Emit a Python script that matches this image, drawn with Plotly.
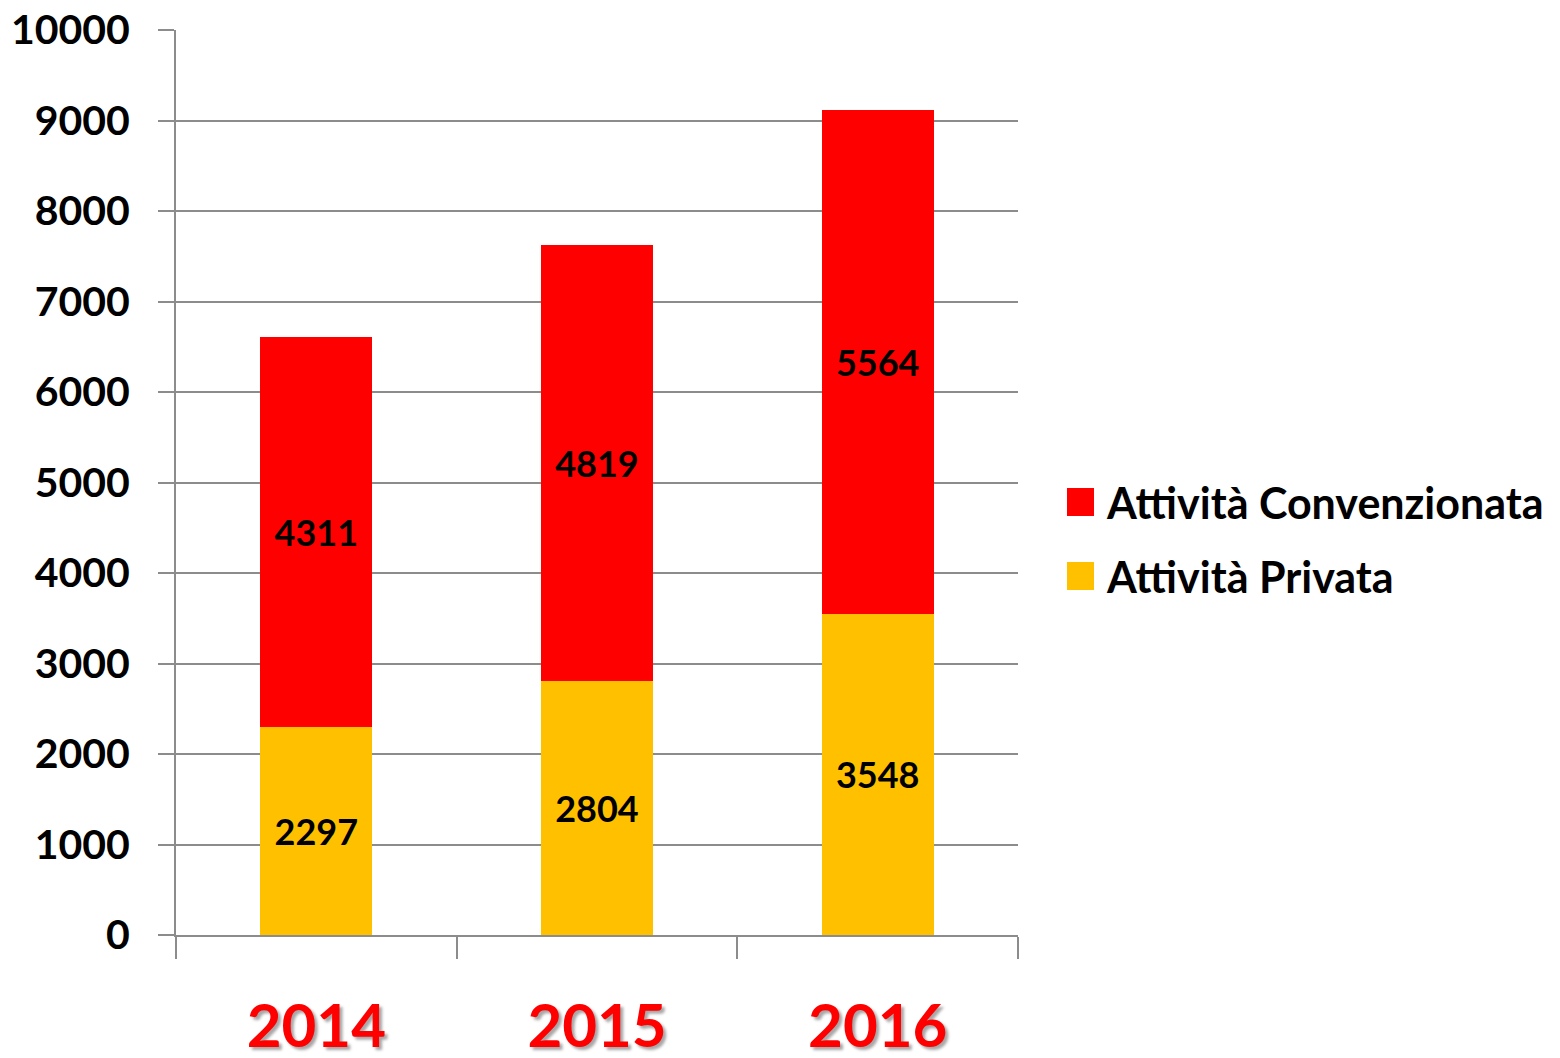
import plotly.graph_objects as go

years = ["2014", "2015", "2016"]
privata = [2297, 2804, 3548]
convenzionata = [4311, 4819, 5564]
series_names = ["Attività Convenzionata", "Attività Privata"]
y_ticks = [0, 1000, 2000, 3000, 4000, 5000, 6000, 7000, 8000, 9000, 10000]
y_tick_labels = [str(v) for v in y_ticks]

RED = "#FF0000"
YEL = "#FFC000"
GRID = "#8C8C8C"
FONT = "Lato"

# page body has an 8px margin: figure occupies 1552x1050 starting at (8, 8)
W, H = 1552, 1050
OFF = 8
PL, PR, PT, PB = 176 - OFF, 1018 - OFF, 30 - OFF, 935 - OFF
PW, PH = PR - PL, PB - PT

fig = go.Figure()
fig.add_trace(go.Bar(
    x=years, y=privata, name=series_names[1], marker=dict(color=YEL, line=dict(width=0)),
    text=["<b>%d</b>" % v for v in privata], textposition="inside", insidetextanchor="middle",
    textfont=dict(family=FONT, size=36, color="black", weight="bold"), showlegend=False,
))
fig.add_trace(go.Bar(
    x=years, y=convenzionata, name=series_names[0], marker=dict(color=RED, line=dict(width=0)),
    text=["<b>%d</b>" % v for v in convenzionata], textposition="inside", insidetextanchor="middle",
    textfont=dict(family=FONT, size=36, color="black", weight="bold"), showlegend=False,
))

fig.update_layout(
    width=W, height=H,
    margin=dict(l=PL, r=W - PR, t=PT, b=H - PB),
    barmode="stack", bargap=0.6,
    plot_bgcolor="white", paper_bgcolor="white",
    xaxis=dict(
        type="category", tickson="boundaries", ticks="outside", ticklen=22, tickwidth=2,
        tickcolor=GRID, showline=True, linecolor=GRID, linewidth=2, showgrid=False,
        automargin=False, ticklabeloverflow="allow",
        tickfont=dict(family=FONT, size=60, color=RED, weight="bold",
                      shadow="3px 3px 3px rgba(0,0,0,0.35)"),
        ticklabelstandoff=38,
    ),
    yaxis=dict(
        range=[0, 10000], tickvals=y_ticks, ticktext=y_tick_labels, ticks="outside", ticklen=16,
        tickwidth=2, automargin=False, ticklabeloverflow="allow",
        tickcolor=GRID, showline=True, linecolor=GRID, linewidth=2,
        showgrid=True, gridcolor=GRID, gridwidth=2, zeroline=False,
        tickfont=dict(family=FONT, size=41, color="black", weight="bold"),
        ticklabelstandoff=20,
    ),
)

# custom legend (large square swatches)
legend_items = [(series_names[0], RED, 502 - OFF), (series_names[1], YEL, 576 - OFF)]
for name, col, ypx in legend_items:
    y0 = 1 - (ypx - PT + 14) / PH
    y1 = 1 - (ypx - PT - 14) / PH
    fig.add_shape(type="rect", xref="paper", yref="paper",
                  x0=(1067 - OFF - PL) / PW, x1=(1094 - OFF - PL) / PW, y0=y0, y1=y1,
                  fillcolor=col, line=dict(width=0))
    fig.add_annotation(xref="paper", yref="paper", x=(1104 - OFF - PL) / PW,
                       y=1 - (ypx - PT) / PH, xanchor="left", yanchor="middle",
                       text="<b>%s</b>" % name, showarrow=False,
                       font=dict(family=FONT, size=43, color="black", weight="bold"))

fig.write_html("out.html")
